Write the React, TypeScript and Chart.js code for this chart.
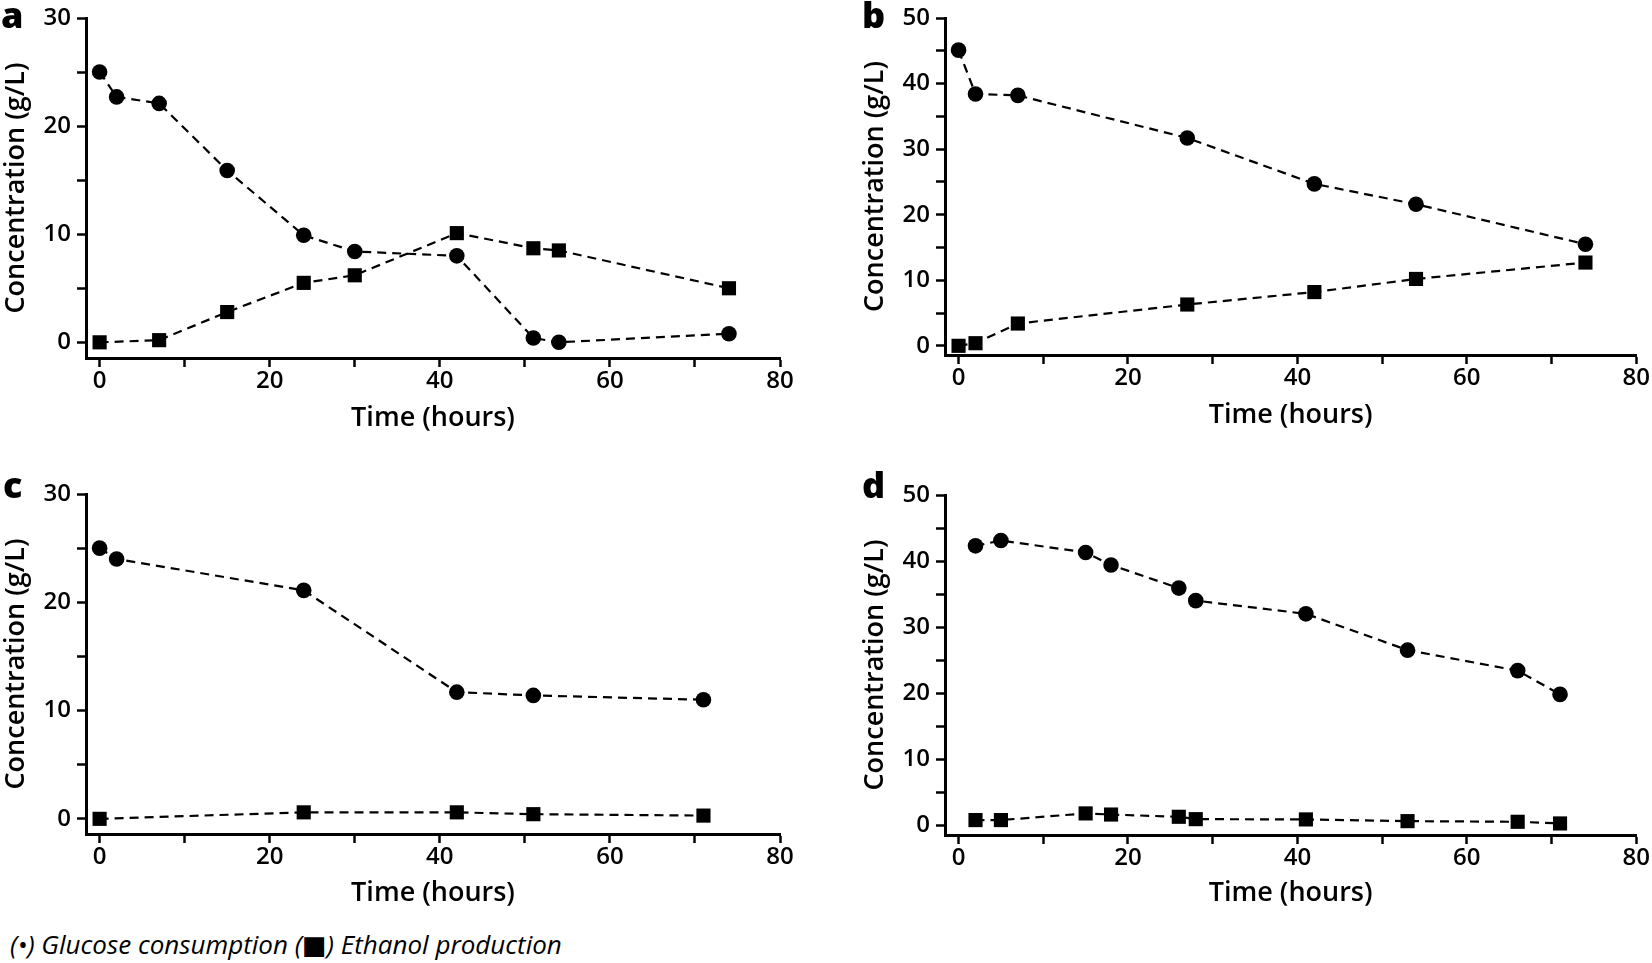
import React, { useEffect, useRef } from "react";
import { Chart, registerables } from "chart.js";

Chart.register(...registerables);

// ---------------- data ----------------
const glucoseHoursA = [0, 2, 7, 15, 24, 30, 42, 51, 54, 74];
const glucoseA = [25, 22.7, 22.1, 15.9, 9.9, 8.4, 8.0, 0.4, 0, 0.8];
const ethanolHoursA = [0, 7, 15, 24, 30, 42, 51, 54, 74];
const ethanolA = [0, 0.2, 2.8, 5.5, 6.2, 10.1, 8.7, 8.5, 5.0];

const hoursB = [0, 2, 7, 27, 42, 54, 74];
const glucoseB = [45.1, 38.4, 38.2, 31.7, 24.7, 21.6, 15.5];
const ethanolB = [0, 0.4, 3.4, 6.3, 8.2, 10.2, 12.7];

const glucoseHoursC = [0, 2, 24, 42, 51, 71];
const glucoseC = [25, 24, 21.1, 11.7, 11.4, 11.0];
const ethanolHoursC = [0, 24, 42, 51, 71];
const ethanolC = [0, 0.6, 0.6, 0.43, 0.3];

const hoursD = [2, 5, 15, 18, 26, 28, 41, 53, 66, 71];
const glucoseD = [42.3, 43.1, 41.3, 39.4, 35.9, 34.0, 32.0, 26.5, 23.4, 19.8];
const ethanolD = [0.76, 0.76, 1.77, 1.6, 1.26, 0.9, 0.86, 0.6, 0.5, 0.25];

const xTickLabels = [0, 20, 40, 60, 80];
const yTickLabels30 = [0, 10, 20, 30];
const yTickLabels50 = [0, 10, 20, 30, 40, 50];
const xAxisTitle = "Time (hours)";
const yAxisTitle = "Concentration (g/L)";
const panelLetters = ["a", "b", "c", "d"];
const legendText = "(\u2022) Glucose consumption (\u25A0) Ethanol production";

// ---------------- styling ----------------
const FONT = '"Open Sans", "Noto Sans", "DejaVu Sans", sans-serif';
const TITLE_SIZE = 27;
const TITLE_LH = 1.2;
const TICK_SIZE = 24;

type Area = { left: number; top: number; right: number; bottom: number };
type PanelProps = {
  letter: string;
  left: number;
  top: number;
  width: number;
  height: number;
  area: Area;
  xTitleCenter: number;
  yTitleCenter: number;
  yMin: number;
  yMax: number;
  yLabels: number[];
  gH: number[];
  g: number[];
  eH: number[];
  e: number[];
  letterLeft: number;
  letterTop: number;
};

function toPoints(xs: number[], ys: number[]) {
  return xs.map((x, i) => ({ x, y: ys[i] }));
}

function Panel(p: PanelProps) {
  const ref = useRef<HTMLCanvasElement | null>(null);
  useEffect(() => {
    let chart: Chart | null = null;
    let cancelled = false;
    const half = (TITLE_SIZE * TITLE_LH) / 2;
    const xBoxBottom = p.xTitleCenter + half;
    const make = () => {
      if (cancelled || !ref.current) return;
      chart = new Chart(ref.current, {
        type: "line",
        data: {
          datasets: [
            {
              data: toPoints(p.gH, p.g),
              borderColor: "#000",
              backgroundColor: "#000",
              borderWidth: 2.2,
              borderDash: [9, 6],
              pointStyle: "circle",
              pointRadius: 7.8,
              pointBackgroundColor: "#000",
              pointBorderColor: "#000",
              pointBorderWidth: 0,
              tension: 0,
              clip: false,
            },
            {
              data: toPoints(p.eH, p.e),
              borderColor: "#000",
              backgroundColor: "#000",
              borderWidth: 2.2,
              borderDash: [9, 6],
              pointStyle: "rect",
              pointRadius: 10,
              pointBackgroundColor: "#000",
              pointBorderColor: "#000",
              pointBorderWidth: 0,
              tension: 0,
              clip: false,
            },
          ],
        },
        options: {
          responsive: false,
          animation: false,
          devicePixelRatio: 1,
          events: [],
          layout: {
            padding: {
              left: 0,
              top: p.area.top,
              right: p.width - p.area.right,
              bottom: p.height - xBoxBottom,
            },
          },
          plugins: {
            legend: { display: false },
            tooltip: { enabled: false },
            title: { display: false },
          },
          scales: {
            x: {
              type: "linear",
              min: -1.6,
              max: 80,
              afterFit: (s: any) => {
                s.height = xBoxBottom - p.area.bottom;
              },
              border: { display: true, color: "#000", width: 3 },
              grid: {
                display: true,
                drawOnChartArea: false,
                drawTicks: true,
                tickLength: 9,
                tickColor: "#000",
                tickWidth: 2.5,
              },
              ticks: {
                stepSize: 10,
                includeBounds: false,
                autoSkip: false,
                maxRotation: 0,
                padding: 2,
                color: "#000",
                font: { family: FONT, size: TICK_SIZE, weight: "600", lineHeight: 1 },
                callback: (v: any) => (xTickLabels.includes(Number(v)) ? String(v) : ""),
              },
              title: {
                display: true,
                text: xAxisTitle,
                color: "#000",
                padding: { top: 0, bottom: 0 },
                font: { family: FONT, size: TITLE_SIZE, weight: "600", lineHeight: TITLE_LH },
              },
            },
            y: {
              type: "linear",
              min: p.yMin,
              max: p.yMax,
              afterFit: (s: any) => {
                s.width = p.area.left;
              },
              border: { display: true, color: "#000", width: 3 },
              grid: {
                display: true,
                drawOnChartArea: false,
                drawTicks: true,
                tickLength: 9,
                tickColor: "#000",
                tickWidth: 2.5,
              },
              ticks: {
                stepSize: 5,
                includeBounds: false,
                autoSkip: false,
                padding: 6,
                color: "#000",
                font: { family: FONT, size: TICK_SIZE, weight: "600", lineHeight: 1 },
                callback: (v: any) => (p.yLabels.includes(Number(v)) ? String(v) : ""),
              },
              title: {
                display: true,
                text: yAxisTitle,
                color: "#000",
                padding: { top: Math.max(0, p.yTitleCenter - half), bottom: 0 },
                font: { family: FONT, size: TITLE_SIZE, weight: "600", lineHeight: TITLE_LH },
              },
            },
          },
        },
      } as any);
    };
    const fonts: any = (document as any).fonts;
    if (fonts && fonts.load) {
      Promise.all([
        fonts.load(`600 ${TICK_SIZE}px "Open Sans"`),
        fonts.load(`600 ${TITLE_SIZE}px "Open Sans"`),
      ]).then(make, make);
    } else {
      make();
    }
    return () => {
      cancelled = true;
      if (chart) chart.destroy();
    };
  }, []);

  return (
    <div style={{ position: "absolute", left: p.left, top: p.top, width: p.width, height: p.height }}>
      <canvas
        ref={ref}
        width={p.width}
        height={p.height}
        style={{ position: "absolute", left: 0, top: 0, width: p.width, height: p.height }}
      />
      <div
        style={{
          position: "absolute",
          left: p.letterLeft,
          top: p.letterTop,
          fontFamily: FONT,
          fontWeight: 800,
          fontSize: 36,
          lineHeight: 1,
          color: "#000",
        }}
      >
        {p.letter}
      </div>
    </div>
  );
}

export default function App() {
  useEffect(() => {
    document.body.style.margin = "0";
    document.body.style.background = "#fff";
  }, []);
  return (
    <div style={{ position: "absolute", left: 0, top: 0, width: 1652, height: 963, background: "#fff", overflow: "hidden" }}>
      <Panel
        letter={panelLetters[0]}
        left={0}
        top={0}
        width={810}
        height={445}
        area={{ left: 86, top: 12.7, right: 780, bottom: 358 }}
        xTitleCenter={418}
        yTitleCenter={15}
        yMin={-1.45}
        yMax={30}
        yLabels={yTickLabels30}
        gH={glucoseHoursA}
        g={glucoseA}
        eH={ethanolHoursA}
        e={ethanolA}
        letterLeft={1}
        letterTop={-3}
      />
      <Panel
        letter={panelLetters[1]}
        left={840}
        top={0}
        width={812}
        height={445}
        area={{ left: 105, top: 15, right: 798, bottom: 355 }}
        xTitleCenter={415}
        yTitleCenter={35}
        yMin={-1.4}
        yMax={50}
        yLabels={yTickLabels50}
        gH={hoursB}
        g={glucoseB}
        eH={hoursB}
        e={ethanolB}
        letterLeft={22}
        letterTop={-3}
      />
      <Panel
        letter={panelLetters[2]}
        left={0}
        top={450}
        width={810}
        height={470}
        area={{ left: 86, top: 44, right: 780, bottom: 384 }}
        xTitleCenter={443}
        yTitleCenter={15}
        yMin={-1.4}
        yMax={30}
        yLabels={yTickLabels30}
        gH={glucoseHoursC}
        g={glucoseC}
        eH={ethanolHoursC}
        e={ethanolC}
        letterLeft={3}
        letterTop={17}
      />
      <Panel
        letter={panelLetters[3]}
        left={840}
        top={450}
        width={812}
        height={470}
        area={{ left: 105, top: 45, right: 798, bottom: 385 }}
        xTitleCenter={443}
        yTitleCenter={35}
        yMin={-1.5}
        yMax={50}
        yLabels={yTickLabels50}
        gH={hoursD}
        g={glucoseD}
        eH={hoursD}
        e={ethanolD}
        letterLeft={22}
        letterTop={17}
      />
      <div
        style={{
          position: "absolute",
          left: 10,
          top: 931,
          fontFamily: FONT,
          fontStyle: "italic",
          fontSize: 26,
          lineHeight: 1,
          color: "#000",
          whiteSpace: "nowrap",
        }}
      >
        {legendText}
      </div>
    </div>
  );
}
